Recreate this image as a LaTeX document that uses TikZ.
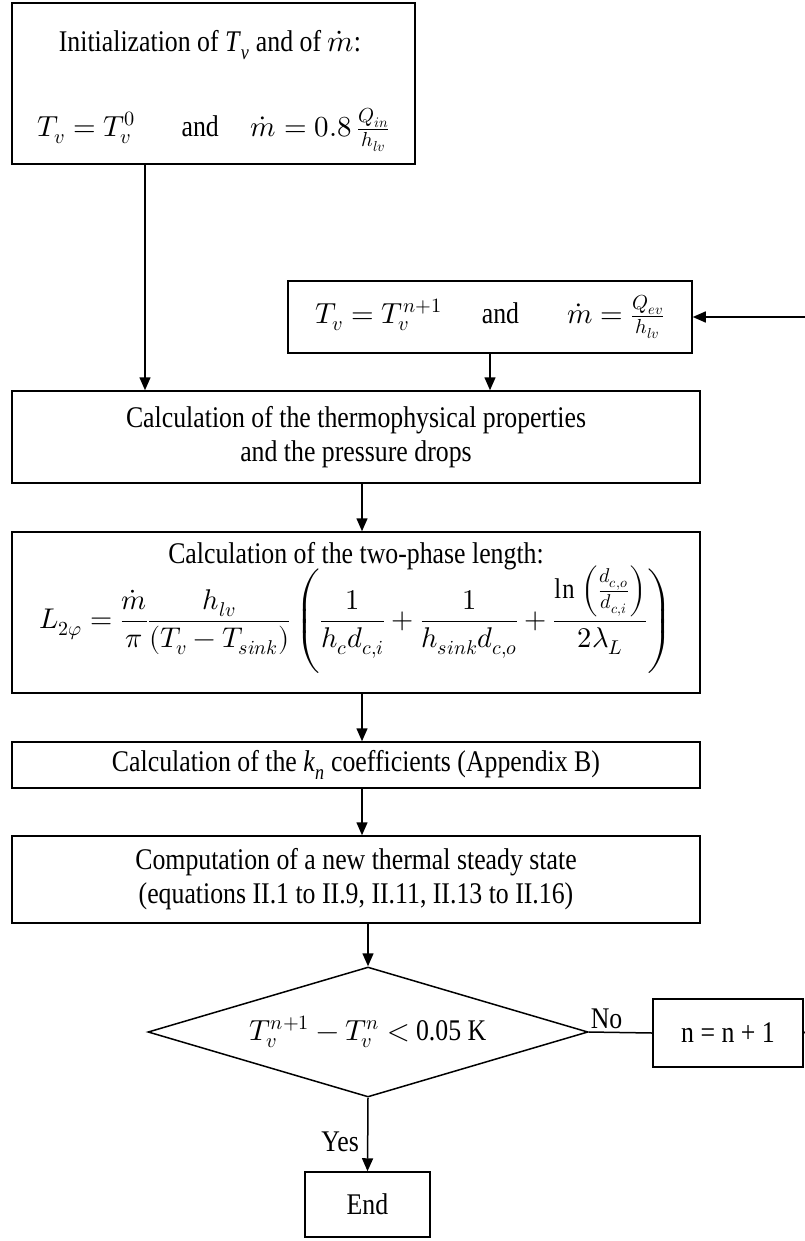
\documentclass[tikz,border=0pt]{standalone}
\usepackage{fontspec}
\usepackage{unicode-math}
\setmainfont{Liberation Serif}[FakeStretch=0.86]
\setmathfont{Latin Modern Math}
\usetikzlibrary{shapes.geometric,arrows.meta}
\begin{document}
\begin{tikzpicture}[x=1pt,y=-1pt,
  every node/.style={font=\fontsize{30}{34}\selectfont},
  mth/.style={font=\fontsize{29}{34}\selectfont},
  box/.style={draw, line width=1.5pt, inner sep=0pt, align=center},
  arr/.style={line width=1.5pt, -{Triangle[length=13pt,width=11pt]}},
  ln/.style={line width=1.5pt}]
\useasboundingbox (0,0) rectangle (804,1241);
% boxes
\node[box, minimum width=403, minimum height=161] (b1) at (213.5,83.5) {};
\node (b1t) at (210,45) {Initialization of \textit{T}\textsubscript{\textit{v}} and of $\dot m$:};
\node[mth] (b1f) at (213.5,130) {$T_v = T_v^0$\hspace{46pt}{\fontsize{30}{34}\selectfont and}\hspace{32pt}$\dot m = 0.8\,\frac{Q_{in}}{h_{lv}}$};
\node[box, mth, minimum width=404, minimum height=72] (b2) at (490,317) {$T_v = T_v^{n+1}$\hspace{40pt}{\fontsize{30}{34}\selectfont and}\hspace{48pt}$\dot m = \frac{Q_{ev}}{h_{lv}}$};
\node[box, minimum width=688, minimum height=92] (b3) at (356,437) {Calculation of the thermophysical properties\\and the pressure drops};
\node[box, minimum width=688, minimum height=161] (b4) at (356,612.5) {};
\node (b4t) at (356,556) {Calculation of the two-phase length:};
\node[font=\fontsize{28.5}{34}\selectfont] (b4f) at (356,620) {$\displaystyle L_{2\varphi}=\frac{\dot m}{\pi}\frac{h_{lv}}{(T_v-T_{sink})}\left(\frac{1}{h_c d_{c,i}}+\frac{1}{h_{sink}d_{c,o}}+\frac{\ln\left(\frac{d_{c,o}}{d_{c,i}}\right)}{2\lambda_L}\right)$};
\node[box, minimum width=688, minimum height=46] (b5) at (356,765) {Calculation of the \textit{k}\textsubscript{\textit{n}} coefficients (Appendix B)};
\node[box, minimum width=688, minimum height=87] (b6) at (356,879.5) {Computation of a new thermal steady state\\(equations II.1 to II.9, II.11, II.13 to II.16)};
\node[draw, diamond, line width=1.5pt, inner sep=0pt, minimum width=440, minimum height=130] (dia) at (368,1032) {};
\node (diat) at (368,1032) {{\fontsize{29}{34}\selectfont$T_v^{n+1}-T_v^{n} <$} 0.05 K};
\node[box, minimum width=150, minimum height=68] (nb) at (728,1033) {n = n + 1};
\node[box, minimum width=125, minimum height=65] (end) at (367.5,1204.5) {End};
% connectors
\coordinate (cA) at (145,0);
\coordinate (cB) at (362,0);
\coordinate (rin) at (805,317);
\coordinate (rout) at (805,1032);
\draw[arr] (cA |- b1.south) -- (cA |- b3.north);
\draw[arr] (rin) -- (b2.east);
\draw[arr] (b2.south) -- (b2.south |- b3.north);
\draw[arr] (cB |- b3.south) -- (cB |- b4.north);
\draw[arr] (cB |- b4.south) -- (cB |- b5.north);
\draw[arr] (cB |- b5.south) -- (cB |- b6.north);
\draw[arr] (dia.north |- b6.south) -- (dia.north);
\draw[ln] (dia.east) -- node[above, pos=0.28, inner sep=3pt] (no) {No} (nb.west);
\draw[ln] (nb.east) -- (rout);
\draw[arr] (dia.south) -- node[left, pos=0.6, inner sep=8pt] (yes) {Yes} (end.north);
\end{tikzpicture}
\end{document}
